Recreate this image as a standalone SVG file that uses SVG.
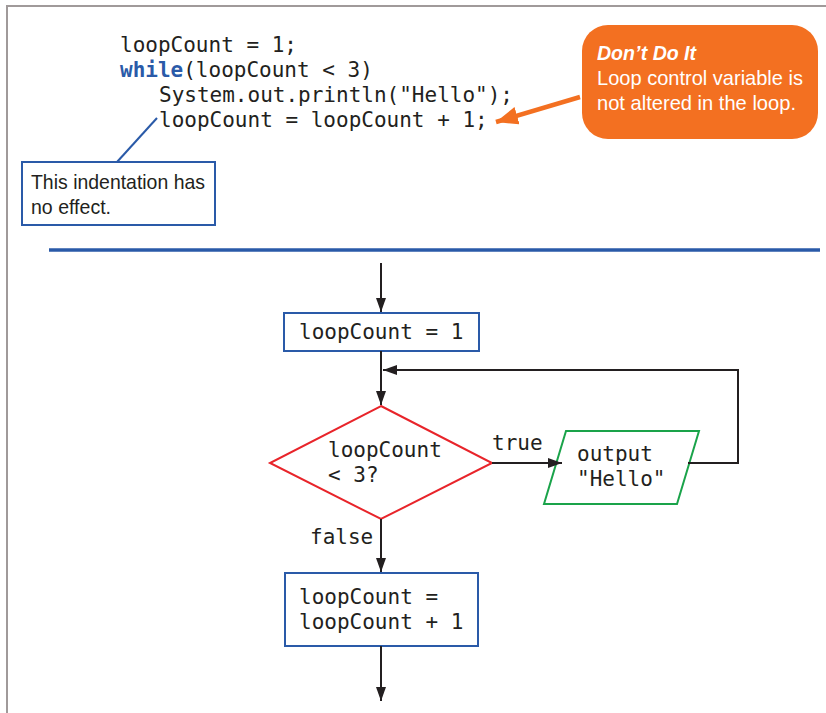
<svg xmlns="http://www.w3.org/2000/svg" width="826" height="713" viewBox="0 0 826 713">
<defs>
<style>
.mono{font-family:"DejaVu Sans Mono","Liberation Mono",monospace;font-size:21px;fill:#231f20}
.kw{font-weight:bold;fill:#2a5aa8}
.sans{font-family:"Liberation Sans","Arial",sans-serif;font-size:21px;fill:#231f20}
.wh{fill:#ffffff}
.conn{stroke:#231f20;stroke-width:2;fill:none}
</style>
<marker id="ah" viewBox="0 0 14 10" refX="14" refY="5" markerWidth="14" markerHeight="10" markerUnits="userSpaceOnUse" orient="auto">
<path d="M0,0 L14,5 L0,10 Z" fill="#231f20"/>
</marker>
<marker id="oah" viewBox="0 0 22 18" refX="22" refY="9" markerWidth="22" markerHeight="18" markerUnits="userSpaceOnUse" orient="auto">
<path d="M0,0 L22,9 L0,18 Z" fill="#f37021"/>
</marker>
</defs>
<rect width="826" height="713" fill="#ffffff"/>
<path d="M7,713 V6 H826" stroke="#a09a9a" stroke-width="2" fill="none"/>
<line x1="49" y1="250" x2="820" y2="250" stroke="#2a5aa8" stroke-width="3.5"/>

<g id="code">
<text class="mono" x="120" y="52">loopCount = 1;</text>
<text class="mono" x="120" y="77"><tspan class="kw">while</tspan>(loopCount &lt; 3)</text>
<text class="mono" x="159" y="102">System.out.println("Hello");</text>
<text class="mono" x="159" y="127">loopCount = loopCount + 1;</text>
</g>

<g id="note-indent">
<rect x="22" y="162" width="193" height="63" fill="#ffffff" stroke="#2a5aa8" stroke-width="2"/>
<text class="sans" x="31" y="189" textLength="174" lengthAdjust="spacingAndGlyphs">This indentation has</text>
<text class="sans" x="31" y="214" textLength="80" lengthAdjust="spacingAndGlyphs">no effect.</text>
</g>

<g id="note-dont">
<rect x="582" y="25" width="236" height="114" rx="26" fill="#f37021"/>
<text class="sans wh" x="597" y="60" font-weight="bold" font-style="italic" textLength="99" lengthAdjust="spacingAndGlyphs">Don’t Do It</text>
<text class="sans wh" x="597" y="85" textLength="206" lengthAdjust="spacingAndGlyphs">Loop control variable is</text>
<text class="sans wh" x="597" y="110" textLength="199" lengthAdjust="spacingAndGlyphs">not altered in the loop.</text>
</g>

<g id="n-init">
<rect x="284" y="313" width="195" height="38" fill="#ffffff" stroke="#2a5aa8" stroke-width="2"/>
<text class="mono" x="299" y="339">loopCount = 1</text>
</g>

<g id="n-cond">
<path d="M381,406 L492,463 L381,519 L270,463 Z" fill="#ffffff" stroke="#e8242a" stroke-width="2"/>
<text class="mono" x="328" y="457">loopCount</text>
<text class="mono" x="328" y="482">&lt; 3?</text>
</g>

<g id="n-output">
<path d="M566,431 L699,431 L677,504 L544,504 Z" fill="#ffffff" stroke="#1aa34a" stroke-width="2"/>
<text class="mono" x="577" y="461">output</text>
<text class="mono" x="577" y="486">"Hello"</text>
</g>

<g id="n-inc">
<rect x="285" y="573" width="193" height="73" fill="#ffffff" stroke="#2a5aa8" stroke-width="2"/>
<text class="mono" x="299" y="604">loopCount =</text>
<text class="mono" x="299" y="629">loopCount + 1</text>
</g>

<g id="connectors">
<line x1="157" y1="118" x2="117" y2="162" stroke="#2a5aa8" stroke-width="2"/>
<line x1="580" y1="97" x2="496" y2="122" stroke="#f37021" stroke-width="4.5" marker-end="url(#oah)"/>
<line class="conn" x1="381" y1="263" x2="381" y2="312" marker-end="url(#ah)"/>
<line class="conn" x1="381" y1="351" x2="381" y2="405" marker-end="url(#ah)"/>
<line class="conn" x1="492" y1="463" x2="562" y2="463" marker-end="url(#ah)"/>
<path class="conn" d="M688,463 H738 V370 H383" marker-end="url(#ah)"/>
<line class="conn" x1="381" y1="519" x2="381" y2="572" marker-end="url(#ah)"/>
<line class="conn" x1="381" y1="646" x2="381" y2="701" marker-end="url(#ah)"/>
<text class="mono" x="492" y="450">true</text>
<text class="mono" x="310" y="544">false</text>
</g>
</svg>
